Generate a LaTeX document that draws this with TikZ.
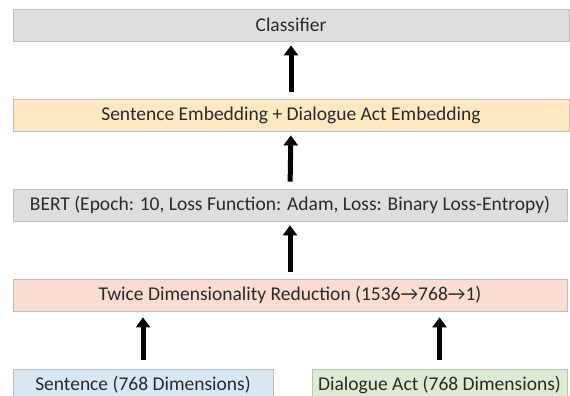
\documentclass[tikz,border=0pt]{standalone}
\usepackage{fontspec}
\setmainfont{Carlito}
\usetikzlibrary{arrows.meta}

\definecolor{boxgray}{HTML}{DEDEDE}
\definecolor{boxyellow}{HTML}{FEE8C2}
\definecolor{boxred}{HTML}{FADCD0}
\definecolor{boxblue}{HTML}{D9E7F5}
\definecolor{boxgreen}{HTML}{DCEBD4}
\definecolor{edgegray}{HTML}{BEBEBE}
\definecolor{textgray}{HTML}{2A2A2A}

\begin{document}
\begin{tikzpicture}[x=1pt,y=-1pt,
  layer/.style={draw=edgegray, line width=0.8pt, minimum height=32pt,
    inner sep=0pt, text=textgray, font=\fontsize{19.5}{22}\selectfont},
  flow/.style={line width=5pt, -{Triangle[width=14pt,length=10pt]},
    shorten <=7pt, shorten >=4pt}]
\clip (0,0) rectangle (570,396);

\node[layer, fill=boxgray, minimum width=556pt] (clf) at (291,25) {Classifier};
\node[layer, fill=boxyellow, minimum width=556pt] (emb) at (291,115)
  {Sentence Embedding + Dialogue Act Embedding};
\node[layer, fill=boxgray, minimum width=554pt] (bert) at (290,205)
  {BERT (Epoch: 10, Loss Function: Adam, Loss: Binary Loss-Entropy)};
\node[layer, fill=boxred, minimum width=554pt] (red) at (290,295)
  {Twice Dimensionality Reduction (1536→768→1)};
\node[layer, fill=boxblue, minimum width=260pt] (sent) at (143,385)
  {Sentence (768 Dimensions)};
\node[layer, fill=boxgreen, minimum width=255pt] (act) at (439.5,385)
  {Dialogue Act (768 Dimensions)};

\draw[flow] (emb.north) -- (clf.south);
\draw[flow] (bert.north) -- (emb.south);
\draw[flow] (red.north) -- (bert.south);
\draw[flow, shorten <=9pt, shorten >=6pt] (sent.north) -- (sent.north |- red.south);
\draw[flow, shorten <=9pt, shorten >=6pt] (act.north) -- (act.north |- red.south);
\end{tikzpicture}
\end{document}
